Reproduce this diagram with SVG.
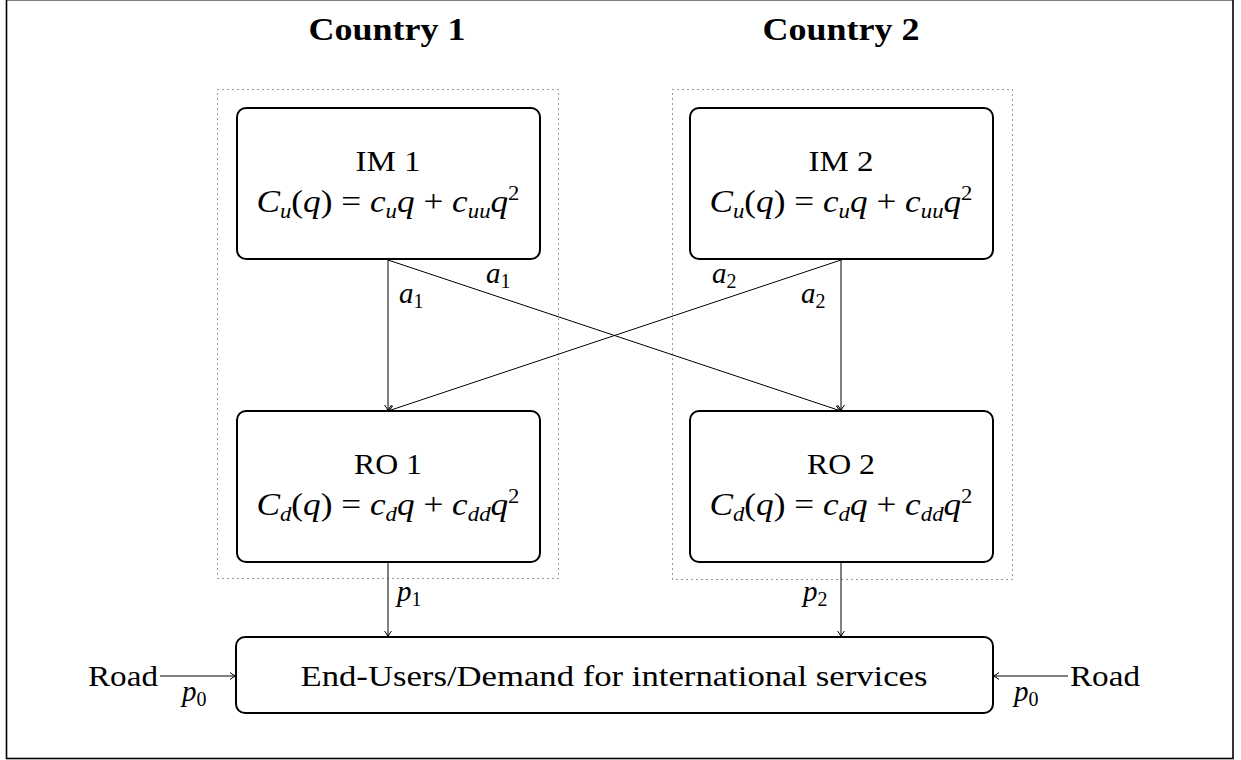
<svg xmlns="http://www.w3.org/2000/svg" width="1241" height="760" viewBox="0 0 1241 760">
<defs>
<style>
.frame{fill:none;stroke:#000;stroke-width:1.6}
.dot{fill:none;stroke:#333;stroke-width:1;stroke-dasharray:1 4}
.box{fill:#fff;stroke:#000;stroke-width:2}
.edge{fill:none;stroke:#000;stroke-width:1;marker-end:url(#arr)}
.t{font-family:"Liberation Serif","DejaVu Serif",serif;font-size:30px;fill:#000;text-anchor:middle}
.m{font-family:"Liberation Serif","DejaVu Serif",serif;font-size:30px;font-style:italic;fill:#000}
.f{font-size:31px}
.lab{font-size:29px}
.ttl{font-family:"Liberation Serif","DejaVu Serif",serif;font-size:31px;font-weight:bold;fill:#000;text-anchor:middle}
.sub{font-size:20px}
.up{font-style:normal}
</style>
<marker id="arr" markerWidth="10" markerHeight="10" refX="9" refY="5" orient="auto" markerUnits="userSpaceOnUse">
<path d="M3,1.5 Q6,4.2 9,5 Q6,5.8 3,8.5" fill="none" stroke="#000" stroke-width="1"/>
</marker>
</defs>
<rect class="frame" x="6.5" y="-0.3" width="1226.5" height="758.8"/>
<g id="titles">
<text class="ttl" x="387" y="40" textLength="157" lengthAdjust="spacingAndGlyphs">Country 1</text>
<text class="ttl" x="841" y="40" textLength="157" lengthAdjust="spacingAndGlyphs">Country 2</text>
</g>
<g id="country1">
<rect class="dot" x="217.5" y="89.5" width="341" height="489"/>
</g>
<g id="country2">
<rect class="dot" x="672.5" y="89.5" width="340" height="490"/>
</g>
<g id="connectors">
<line class="edge" x1="388" y1="260" x2="388" y2="411"/>
<line class="edge" x1="388" y1="260" x2="841" y2="411"/>
<line class="edge" x1="841" y1="260" x2="388" y2="411"/>
<line class="edge" x1="841" y1="260" x2="841" y2="411"/>
<line class="edge" x1="388" y1="563" x2="388" y2="637"/>
<line class="edge" x1="841" y1="563" x2="841" y2="637"/>
<line class="edge" x1="160" y1="676" x2="236" y2="676"/>
<line class="edge" x1="1068" y1="676" x2="993" y2="676"/>
<text class="m lab" x="399" y="303">a<tspan class="sub up" dy="5">1</tspan></text>
<text class="m lab" x="486" y="283">a<tspan class="sub up" dy="5">1</tspan></text>
<text class="m lab" x="712" y="283">a<tspan class="sub up" dy="5">2</tspan></text>
<text class="m lab" x="801" y="303">a<tspan class="sub up" dy="5">2</tspan></text>
<text class="m lab" x="397" y="601">p<tspan class="sub up" dy="5">1</tspan></text>
<text class="m lab" x="803" y="601">p<tspan class="sub up" dy="5">2</tspan></text>
<text class="m lab" x="182" y="701">p<tspan class="sub up" dy="5">0</tspan></text>
<text class="m lab" x="1014" y="701">p<tspan class="sub up" dy="5">0</tspan></text>
</g>
<g id="road_left">
<text class="t" x="123" y="686" textLength="70" lengthAdjust="spacingAndGlyphs">Road</text>
</g>
<g id="road_right">
<text class="t" x="1105" y="686" textLength="70" lengthAdjust="spacingAndGlyphs">Road</text>
</g>
<g id="im1">
<rect class="box" x="237" y="108" width="303" height="151" rx="9"/>
<text class="t" x="388" y="171" textLength="65" lengthAdjust="spacingAndGlyphs">IM 1</text>
<text class="m f" x="388" y="212" text-anchor="middle" textLength="263" lengthAdjust="spacingAndGlyphs">C<tspan class="sub" dy="6">u</tspan><tspan class="up" dy="-6">(</tspan>q<tspan class="up">) = </tspan>c<tspan class="sub" dy="6">u</tspan><tspan dy="-6">q</tspan><tspan class="up"> + </tspan>c<tspan class="sub" dy="6">uu</tspan><tspan dy="-6">q</tspan><tspan class="sub up" dy="-12">2</tspan></text>
</g>
<g id="im2">
<rect class="box" x="690" y="108" width="303" height="151" rx="9"/>
<text class="t" x="841" y="171" textLength="65" lengthAdjust="spacingAndGlyphs">IM 2</text>
<text class="m f" x="841" y="212" text-anchor="middle" textLength="263" lengthAdjust="spacingAndGlyphs">C<tspan class="sub" dy="6">u</tspan><tspan class="up" dy="-6">(</tspan>q<tspan class="up">) = </tspan>c<tspan class="sub" dy="6">u</tspan><tspan dy="-6">q</tspan><tspan class="up"> + </tspan>c<tspan class="sub" dy="6">uu</tspan><tspan dy="-6">q</tspan><tspan class="sub up" dy="-12">2</tspan></text>
</g>
<g id="ro1">
<rect class="box" x="237" y="411" width="303" height="151" rx="9"/>
<text class="t" x="388" y="474" textLength="68" lengthAdjust="spacingAndGlyphs">RO 1</text>
<text class="m f" x="388" y="515" text-anchor="middle" textLength="263" lengthAdjust="spacingAndGlyphs">C<tspan class="sub" dy="6">d</tspan><tspan class="up" dy="-6">(</tspan>q<tspan class="up">) = </tspan>c<tspan class="sub" dy="6">d</tspan><tspan dy="-6">q</tspan><tspan class="up"> + </tspan>c<tspan class="sub" dy="6">dd</tspan><tspan dy="-6">q</tspan><tspan class="sub up" dy="-12">2</tspan></text>
</g>
<g id="ro2">
<rect class="box" x="690" y="411" width="303" height="151" rx="9"/>
<text class="t" x="841" y="474" textLength="68" lengthAdjust="spacingAndGlyphs">RO 2</text>
<text class="m f" x="841" y="515" text-anchor="middle" textLength="263" lengthAdjust="spacingAndGlyphs">C<tspan class="sub" dy="6">d</tspan><tspan class="up" dy="-6">(</tspan>q<tspan class="up">) = </tspan>c<tspan class="sub" dy="6">d</tspan><tspan dy="-6">q</tspan><tspan class="up"> + </tspan>c<tspan class="sub" dy="6">dd</tspan><tspan dy="-6">q</tspan><tspan class="sub up" dy="-12">2</tspan></text>
</g>
<g id="endusers">
<rect class="box" x="236" y="637" width="757" height="76" rx="9"/>
<text class="t" x="614" y="686" textLength="627" lengthAdjust="spacingAndGlyphs">End-Users/Demand for international services</text>
</g>
</svg>
